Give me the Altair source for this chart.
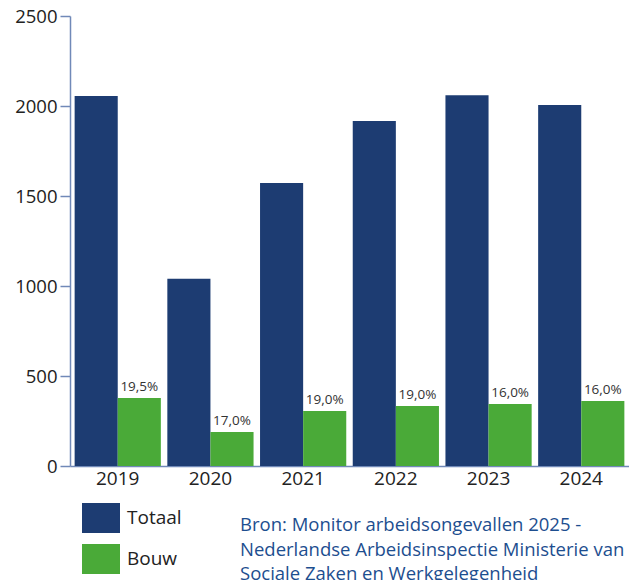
import altair as alt
import pandas as pd

years = ["2019", "2020", "2021", "2022", "2023", "2024"]
totaal = [2055, 1040, 1572, 1917, 2060, 2006]
bouw = [378, 189, 306, 333, 344, 361]
bouw_pct = ["19,5%", "17,0%", "19,0%", "19,0%", "16,0%", "16,0%"]
series = ["Totaal", "Bouw"]
colors = ["#1d3c72", "#4aaa38"]
y_ticks = [0, 500, 1000, 1500, 2000, 2500]
source_lines = [
    "Bron: Monitor arbeidsongevallen 2025 -",
    "Nederlandse Arbeidsinspectie Ministerie van",
    "Sociale Zaken en Werkgelegenheid",
]

rows = []
for i, yr in enumerate(years):
    rows.append({"year": yr, "series": "Totaal", "value": totaal[i], "label": ""})
    rows.append({"year": yr, "series": "Bouw", "value": bouw[i], "label": bouw_pct[i]})
df = pd.DataFrame(rows)

FONT = "Open Sans"
AXIS_COL = "#7089b8"

x = alt.X(
    "year:N", title=None, sort=years,
    scale=alt.Scale(paddingInner=0.07, paddingOuter=0.05),
    axis=alt.Axis(labelAngle=0, ticks=False, domainColor=AXIS_COL, domainWidth=1.5,
                  labelFontSize=19, labelPadding=3, labelColor="#222222", labelFont=FONT),
)
y = alt.Y(
    "value:Q", title=None,
    scale=alt.Scale(domain=[0, 2500], nice=False),
    axis=alt.Axis(values=y_ticks, format="d", grid=False, tickSize=10, tickColor=AXIS_COL, tickWidth=1.5,
                  domainColor=AXIS_COL, domainWidth=1.5, labelFontSize=18.5, labelPadding=3,
                  labelColor="#222222", labelFont=FONT),
)
xoff = alt.XOffset("series:N", sort=series, scale=alt.Scale(domain=series, paddingInner=0, paddingOuter=0))

bars = alt.Chart(df).mark_bar().encode(
    x=x, y=y, xOffset=xoff,
    color=alt.Color(
        "series:N", sort=series,
        scale=alt.Scale(domain=series, range=colors),
        legend=alt.Legend(
            title=None, orient="none", legendX=12, legendY=483, direction="vertical",
            symbolType="M-1,-0.79L1,-0.79L1,0.79L-1,0.79Z", symbolSize=1444,
            symbolStrokeWidth=0, symbolOpacity=1, labelFontSize=19, labelFont=FONT,
            labelColor="#222222", rowPadding=6, labelOffset=7, padding=0,
        ),
    ),
)

labels = alt.Chart(df).mark_text(dy=-4, baseline="bottom", fontSize=13.5, font=FONT, color="#333333").encode(
    x=x, y=y, xOffset=xoff, text="label:N"
)

src = alt.Chart(pd.DataFrame({"a": [0]})).mark_text(
    align="left", baseline="alphabetic", fontSize=18.5, font=FONT, color="#1d4e8f",
    lineBreak="\n", lineHeight=24.5,
).encode(x=alt.value(170), y=alt.value(515), text=alt.value("\n".join(source_lines)))

chart = alt.layer(bars, labels, src).properties(
    width=559, height=450,
    autosize=alt.AutoSizeParams(type="none"),
    padding={"left": 62, "top": 8, "right": 0, "bottom": 125},
).configure_view(stroke=None)

chart.save("out.html", embed_options={"renderer": "svg", "actions": False})
